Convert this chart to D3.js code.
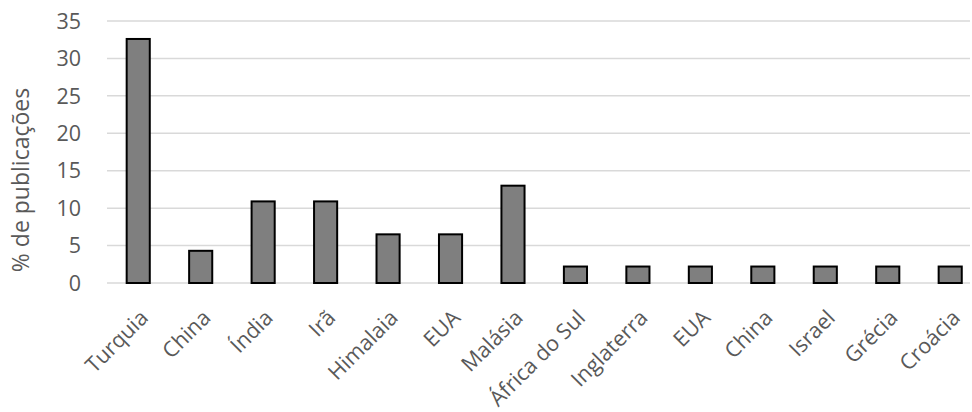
<!DOCTYPE html>
<html>
<head>
<meta charset="utf-8">
<script src="https://cdn.jsdelivr.net/npm/d3@7"></script>
<style>
  body { margin: 0; background: #fff; }
  text { font-family: "Open Sans", "Noto Sans", sans-serif; fill: #595959; }
</style>
</head>
<body>
<svg id="chart" width="972" height="412"></svg>
<script>
// data
var categories = ['Turquia', 'China', 'Índia', 'Irã', 'Himalaia', 'EUA', 'Malásia',
                  'África do Sul', 'Inglaterra', 'EUA', 'China', 'Israel', 'Grécia', 'Croácia'];
var values = [32.6, 4.3, 10.9, 10.9, 6.5, 6.5, 13.0, 2.2, 2.2, 2.2, 2.2, 2.2, 2.2, 2.2];
var yTicks = [0, 5, 10, 15, 20, 25, 30, 35];
var yTitle = '% de publicações';

var svg = d3.select('#chart');

var plotLeft = 107, plotTop = 21, plotBottom = 283;
var band = 62.46;
var fontSize = '21.5px';

var x = d3.scaleBand()
    .domain(d3.range(categories.length))
    .range([plotLeft, plotLeft + band * categories.length])
    .paddingInner(0.63)
    .paddingOuter(0.315);

var y = d3.scaleLinear().domain([0, 35]).range([plotBottom, plotTop]);

// gridlines
svg.append('g')
    .selectAll('line')
    .data(yTicks)
    .join('line')
    .attr('x1', plotLeft)
    .attr('x2', 970)
    .attr('y1', (d) => y(d))
    .attr('y2', (d) => y(d))
    .attr('stroke', '#d9d9d9')
    .attr('stroke-width', 1.5);

// y tick labels
svg.append('g')
    .selectAll('text')
    .data(yTicks)
    .join('text')
    .attr('x', 81)
    .attr('y', (d) => y(d))
    .attr('dy', '0.36em')
    .attr('text-anchor', 'end')
    .style('font-size', fontSize)
    .text((d) => d);

// y title
svg.append('text')
    .attr('transform', 'translate(29,' + ((plotTop + plotBottom) / 2 + 28) + ') rotate(-90)')
    .attr('text-anchor', 'middle')
    .style('font-size', '23px')
    .text(yTitle);

// bars
svg.append('g')
    .selectAll('rect')
    .data(values)
    .join('rect')
    .attr('x', (d, i) => x(i))
    .attr('y', (d) => y(d))
    .attr('width', x.bandwidth())
    .attr('height', (d) => y(0) - y(d))
    .attr('fill', '#7f7f7f')
    .attr('stroke', '#000')
    .attr('stroke-width', 2);

// x labels, rotated
svg.append('g')
    .selectAll('text')
    .data(categories)
    .join('text')
    .attr('transform', (d, i) => 'translate(' + (x(i) + x.bandwidth() / 2 + 0.5) + ',308.5) rotate(-45)')
    .attr('text-anchor', 'end')
    .attr('dy', '0.7em')
    .style('font-size', fontSize)
    .text((d) => d);
</script>
</body>
</html>
